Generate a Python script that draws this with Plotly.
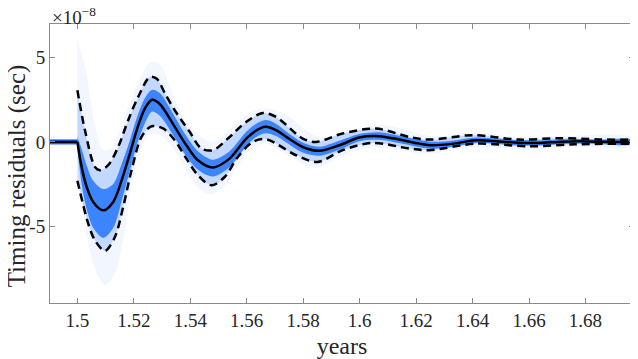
import plotly.graph_objects as go

# values in units of 1e-8 sec
pre_t = [1.4903, 1.5000]
pre_y = [0, 0]

median_t = [1.5000, 1.5015, 1.5033, 1.5056, 1.5092, 1.5127, 1.5157, 1.5186, 1.5210, 1.5239,
            1.5265, 1.5292, 1.5345, 1.5386, 1.5427, 1.5480, 1.5539, 1.5598, 1.5631, 1.5666,
            1.5702, 1.5740, 1.5798, 1.5857, 1.5928, 1.5999, 1.6069, 1.6140, 1.6211, 1.6257,
            1.6334, 1.6412, 1.6493, 1.6564, 1.6635, 1.6705, 1.6776, 1.6847, 1.6970]
median_y = [0.0, -1.48, -2.67, -3.56, -4.06, -3.56, -2.27, -0.69, 0.69, 1.98,
            2.5, 2.25, 0.89, -0.2, -1.09, -1.52, -0.99, 0.2, 0.65, 0.9,
            0.72, 0.3, -0.3, -0.53, -0.2, 0.26, 0.34, 0.14, -0.1, -0.2,
            -0.1, 0.1, 0.03, -0.05, -0.06, 0.0, 0.04, 0.01, 0.0]

# dense part of the sample cloud
inner_hi = [0.3, -0.4, -1.4, -2.3, -2.8, -2.5, -1.3, 0.1, 1.4, 2.6,
            3.1, 2.9, 1.5, 0.35, -0.55, -1.05, -0.55, 0.6, 1.05, 1.3,
            1.1, 0.62, -0.03, -0.28, 0.07, 0.47, 0.57, 0.36, 0.11, 0.01,
            0.09, 0.26, 0.19, 0.11, 0.09, 0.14, 0.17, 0.14, 0.13]
inner_lo = [-0.3, -2.5, -4.0, -5.1, -5.7, -5.1, -3.5, -1.7, -0.2, 1.1,
            1.8, 1.55, 0.25, -0.85, -1.65, -2.05, -1.5, -0.25, 0.27, 0.52,
            0.37, -0.03, -0.62, -0.82, -0.47, 0.04, 0.13, -0.07, -0.31, -0.41,
            -0.29, -0.06, -0.13, -0.21, -0.21, -0.14, -0.1, -0.12, -0.13]

upper_t = [1.5000, 1.50269, 1.50622, 1.50799, 1.51092, 1.51445, 1.51799, 1.52152, 1.52565, 1.52813,
           1.53096, 1.53449, 1.53979, 1.54392, 1.54802, 1.55332, 1.55982, 1.56569, 1.57043, 1.57983,
           1.58456, 1.59396, 1.60576, 1.61753, 1.62460, 1.63990, 1.65640, 1.67053, 1.68467, 1.69704]
upper_y = [3.07, 0.69, -1.48, -1.68, -1.38, -0.3, 1.29, 2.67, 3.85, 3.75,
           2.9, 1.88, 0.6, -0.39, -0.49, 0.2, 1.19, 1.72, 1.48, 0.2,
           0.0, 0.5, 0.79, 0.3, 0.14, 0.4, 0.14, 0.22, 0.15, 0.12]

lower_t = [1.5000, 1.50385, 1.50622, 1.50975, 1.51329, 1.51622, 1.51919, 1.52272, 1.52625, 1.53035,
           1.53449, 1.53862, 1.54272, 1.54746, 1.55216, 1.55686, 1.56216, 1.56689, 1.57749, 1.58513,
           1.59396, 1.60456, 1.61753, 1.62460, 1.64110, 1.65993, 1.67643, 1.69704]
lower_y = [-2.3, -4.85, -5.84, -6.47, -5.64, -3.86, -1.68, 0.3, 0.93, 0.8,
           0.1, -0.99, -1.98, -2.57, -2.08, -0.89, 0.0, 0.16, -0.79, -1.19,
           -0.49, -0.06, -0.39, -0.49, -0.1, -0.26, -0.14, -0.1]

# faint outer extent of the samples
cloud_hi_t = [1.5000, 1.5027, 1.5062, 1.5092, 1.5127, 1.5157, 1.5210, 1.5257, 1.5292, 1.5345,
              1.5398, 1.5480, 1.5539, 1.5598, 1.5666, 1.5740, 1.5857, 1.6069, 1.6257, 1.6412,
              1.6564, 1.6705, 1.6970]
cloud_hi = [6.0, 4.5, 1.0, -0.5, -0.3, 1.0, 3.3, 4.7, 4.6, 2.5,
            0.9, 0.0, 0.7, 1.6, 2.0, 1.6, 0.3, 1.0, 0.35, 0.55,
            0.3, 0.35, 0.25]
cloud_lo_t = [1.5000, 1.5033, 1.5062, 1.5098, 1.5133, 1.5165, 1.5192, 1.5227, 1.5262, 1.5303,
              1.5345, 1.5386, 1.5427, 1.5475, 1.5522, 1.5569, 1.5622, 1.5669, 1.5775, 1.5851,
              1.5940, 1.6046, 1.6175, 1.6246, 1.6411, 1.6599, 1.6764, 1.6970]
cloud_lo = [-1.0, -5.5, -7.5, -8.5, -7.8, -5.5, -2.6, -0.3, 0.5, 0.3,
            -0.5, -1.7, -2.7, -3.1, -2.6, -1.4, -0.3, -0.1, -1.1, -1.5,
            -0.8, -0.3, -0.6, -0.7, -0.3, -0.45, -0.3, -0.25]

y_ticks = [-5, 0, 5]
y_ticktext = ["-5", "0", "5"]
x_ticks = [1.5, 1.52, 1.54, 1.56, 1.58, 1.6, 1.62, 1.64, 1.66, 1.68]
x_ticktext = ["1.5", "1.52", "1.54", "1.56", "1.58", "1.6", "1.62", "1.64", "1.66", "1.68"]

FONT = "Liberation Serif"
TXT = "#262626"
BLUE = "10,100,255"
spl = dict(shape="spline", smoothing=0.9)

fig = go.Figure()

def band(t_hi, hi, t_lo, lo, alpha):
    fig.add_trace(go.Scatter(
        x=list(t_hi) + list(t_lo)[::-1], y=list(hi) + list(lo)[::-1],
        mode="lines", fill="toself", line=dict(width=0, **spl),
        fillcolor=f"rgba({BLUE},{alpha})", hoverinfo="skip", showlegend=False))

band(cloud_hi_t, cloud_hi, cloud_lo_t, cloud_lo, 0.06)
band(upper_t, upper_y, lower_t, lower_y, 0.2)
band(median_t, inner_hi, median_t, inner_lo, 0.72)

# flat part before the event
fig.add_trace(go.Scatter(x=pre_t, y=pre_y, mode="lines",
                         line=dict(color=f"rgb({BLUE})", width=5), showlegend=False))
fig.add_trace(go.Scatter(x=pre_t, y=pre_y, mode="lines",
                         line=dict(color="black", width=2.2), showlegend=False))

fig.add_trace(go.Scatter(x=median_t, y=median_y, mode="lines",
                         line=dict(color="black", width=2.5, **spl), showlegend=False))
for t, y in [(upper_t, upper_y), (lower_t, lower_y)]:
    fig.add_trace(go.Scatter(x=t, y=y, mode="lines",
                             line=dict(color="black", width=2.5, dash="8px,5px", **spl),
                             showlegend=False))

axis_common = dict(showline=True, linecolor="#8a8a8a", linewidth=1, mirror="ticks",
                   ticks="inside", ticklen=5, tickcolor="#8a8a8a", showgrid=False,
                   zeroline=False, automargin=False,
                   tickfont=dict(family=FONT, size=19, color=TXT))

fig.update_xaxes(range=[1.4903, 1.6972], tickvals=x_ticks, ticktext=x_ticktext,
                 title=dict(text="years", font=dict(family=FONT, size=24, color=TXT),
                            standoff=11),
                 **axis_common)
fig.update_yaxes(range=[-9.56, 7.0], tickvals=y_ticks, ticktext=y_ticktext, **axis_common)

# y title as an annotation so its place can be set freely
fig.add_annotation(text="Timing residuals (sec)", xref="paper", yref="paper",
                   x=-0.056, y=0.455, textangle=-90, showarrow=False,
                   xanchor="center", yanchor="middle",
                   font=dict(family=FONT, size=25, color=TXT))

fig.add_annotation(text="×10<sup>−8</sup>", xref="paper", yref="paper", x=0.0, y=1.0,
                   xanchor="left", yanchor="bottom", yshift=-6, showarrow=False,
                   font=dict(family=FONT, size=19, color=TXT))

# the page body adds 8px around the plot div, so shrink the figure by that much
fig.update_layout(width=630, height=351, margin=dict(l=42, r=4, t=16, b=56),
                  plot_bgcolor="white", paper_bgcolor="white")

fig.write_html("out.html")
